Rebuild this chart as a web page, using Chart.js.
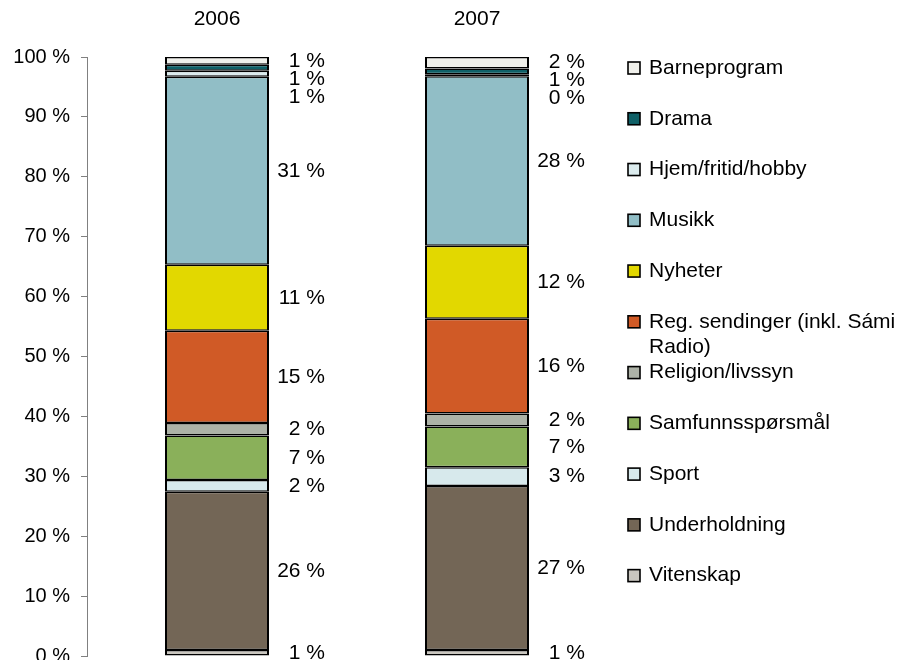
<!DOCTYPE html>
<html>
<head>
<meta charset="utf-8">
<script src="https://cdn.jsdelivr.net/npm/chart.js@4/dist/chart.umd.min.js"></script>
<style>
html, body { margin: 0; padding: 0; background: #fff; overflow: hidden; }
</style>
</head>
<body>
<canvas id="myChart" width="900" height="660"></canvas>
<script>
// categories (top of the axis)
const years = ['2006', '2007'];
// legend order, top of the stack first
const genres = [
  'Barneprogram',
  'Drama',
  'Hjem/fritid/hobby',
  'Musikk',
  'Nyheter',
  'Reg. sendinger (inkl. Sámi Radio)',
  'Religion/livssyn',
  'Samfunnsspørsmål',
  'Sport',
  'Underholdning',
  'Vitenskap'
];
const share2006 = [1.3, 1.0, 1.0, 31.4, 11.0, 15.4, 2.1, 7.4, 2.0, 26.4, 1.0];
const share2007 = [1.9, 1.0, 0.3, 28.3, 12.2, 15.8, 2.2, 6.8, 3.1, 27.4, 1.0];
const colors = [
  '#f0f0eb',
  '#0f6067',
  '#dcecee',
  '#91bec6',
  '#e2d800',
  '#d05a26',
  '#adb2a7',
  '#8ab05a',
  '#d7e9ec',
  '#736656',
  '#c9c6bf'
];
const yTicks = [0, 10, 20, 30, 40, 50, 60, 70, 80, 90, 100];

const FONT = '"Liberation Sans", Arial, sans-serif';
Chart.defaults.font.family = FONT;
Chart.defaults.font.size = 21;
Chart.defaults.color = '#000';

// chart.js stacks the first dataset at the bottom, so reverse
let datasets = genres.map((g, i) => ({
  label: g,
  data: [share2006[i], share2007[i]],
  backgroundColor: colors[i],
  borderColor: '#000',
  borderWidth: { left: 2, right: 2, top: 1.5, bottom: 1.5 },
  borderSkipped: false,
  barPercentage: 0.4,
  categoryPercentage: 1
})).reverse();

// "N %" labels right of each segment, pushed down when they crowd
const valueLabels = {
  id: 'valueLabels',
  afterDatasetsDraw(chart) {
    const ctx = chart.ctx;
    ctx.save();
    ctx.font = '21px ' + FONT;
    ctx.fillStyle = '#000';
    ctx.textAlign = 'right';
    ctx.textBaseline = 'middle';
    years.forEach((yr, j) => {
      let last = -Infinity;
      for (let d = chart.data.datasets.length - 1; d >= 0; d--) {
        const bar = chart.getDatasetMeta(d).data[j].getProps(['x', 'y', 'base', 'width'], true);
        let cy = Math.max((bar.y + bar.base) / 2, last + 18);
        last = cy;
        ctx.fillText(Math.round(chart.data.datasets[d].data[j]) + ' %', bar.x + bar.width / 2 + 56, cy);
      }
    });
    ctx.restore();
  }
};

// legend on the right with wrapping text
const sideLegend = {
  id: 'sideLegend',
  afterDraw(chart) {
    const ctx = chart.ctx;
    const area = chart.chartArea;
    const step = (area.bottom - area.top) / 11.8;
    const x = area.right + 21;
    const tx = x + 21;
    const maxW = chart.width - tx;
    ctx.save();
    ctx.font = '21px ' + FONT;
    ctx.textAlign = 'left';
    ctx.textBaseline = 'middle';
    genres.forEach((g, i) => {
      let y = area.top + 11 + i * step;
      ctx.fillStyle = colors[i];
      ctx.fillRect(x, y - 6, 12, 12);
      ctx.strokeStyle = '#000';
      ctx.lineWidth = 1.6;
      ctx.strokeRect(x, y - 6, 12, 12);
      let words = g.split(' ');
      let lines = [];
      let cur = '';
      words.forEach(w => {
        let test = cur ? cur + ' ' + w : w;
        if (ctx.measureText(test).width > maxW && cur) {
          lines.push(cur);
          cur = w;
        } else {
          cur = test;
        }
      });
      lines.push(cur);
      ctx.fillStyle = '#000';
      lines.forEach((l, k) => ctx.fillText(l, tx, y + k * 25));
    });
    ctx.restore();
  }
};

const myChart = new Chart(document.getElementById('myChart'), {
  type: 'bar',
  data: { labels: years, datasets: datasets },
  options: {
    responsive: false,
    animation: false,
    devicePixelRatio: 1,
    layout: { padding: { left: 0, top: 0, right: 293, bottom: 4 } },
    plugins: {
      legend: { display: false },
      tooltip: { enabled: false }
    },
    scales: {
      x: {
        position: 'top',
        stacked: true,
        grid: { display: false, drawTicks: false },
        border: { display: false },
        ticks: { padding: 25 },
        afterFit: (s) => { s.height = 57; }
      },
      y: {
        stacked: true,
        min: 0,
        max: 100,
        afterBuildTicks: (s) => { s.ticks = yTicks.map(v => ({ value: v })); },
        ticks: { padding: 11, font: { size: 20 }, callback: v => v + ' %' },
        grid: { drawOnChartArea: false, tickLength: 6, color: '#808080' },
        border: { color: '#808080' },
        afterFit: (s) => { s.width = 87; s.paddingTop = 0; s.paddingBottom = 0; }
      }
    }
  },
  plugins: [valueLabels, sideLegend]
});
</script>
</body>
</html>
